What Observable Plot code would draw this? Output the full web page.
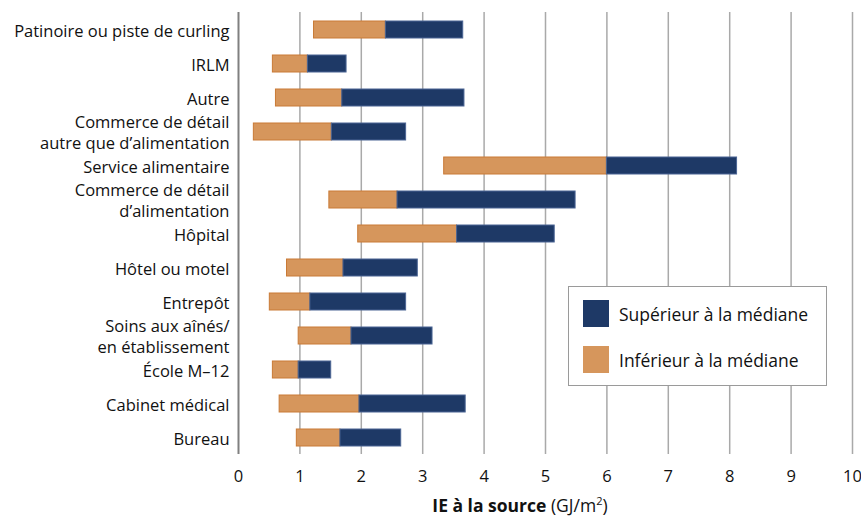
<!DOCTYPE html>
<html><head><meta charset="utf-8">
<script src="https://cdn.jsdelivr.net/npm/d3@7"></script>
<script src="https://cdn.jsdelivr.net/npm/@observablehq/plot@0.6"></script>
<style>
body{margin:0;background:#fff;font-family:"Open Sans",sans-serif;}
#wrap{position:relative;width:861px;height:516px;}
#legend{position:absolute;left:568px;top:286px;width:257px;height:98px;border:1.5px solid #9a9a9a;background:#fff;font-size:17.5px;color:#111;}
.item{position:absolute;left:14px;display:flex;align-items:center;}
.sw{width:26px;height:27px;margin-right:10px;}
#title{position:absolute;top:493px;left:0;width:1040px;text-align:center;font-size:17.5px;color:#111;}
</style></head>
<body><div id="wrap"><div id="chart"></div>
<div id="legend">
<div class="item" style="top:13px"><div class="sw" style="background:#1e3966"></div>Supérieur à la médiane</div>
<div class="item" style="top:59px"><div class="sw" style="background:#d6965c"></div>Inférieur à la médiane</div>
</div>
<div id="title"><b>IE à la source</b> (GJ/m<sup style="font-size:11px">2</sup>)</div>
</div>
<script>
const categories = ["Patinoire ou piste de curling","IRLM","Autre","Commerce de détail\nautre que d’alimentation","Service alimentaire","Commerce de détail\nd’alimentation","Hôpital","Hôtel ou motel","Entrepôt","Soins aux aînés/\nen établissement","École M–12","Cabinet médical","Bureau"];
const low    = [1.23,0.56,0.61,0.25,3.35,1.48,1.95,0.79,0.51,0.98,0.56,0.67,0.95];
const median = [2.40,1.13,1.69,1.52,6.00,2.59,3.56,1.71,1.17,1.84,0.98,1.97,1.66];
const high   = [3.66,1.76,3.68,2.73,8.12,5.49,5.15,2.92,2.73,3.16,1.51,3.70,2.65];
const xTicks = [0,1,2,3,4,5,6,7,8,9,10];

const rows = categories.map((c,i)=>({cat:c, low:low[i], med:median[i], high:high[i]}));

const chart = Plot.plot({
  width: 861, height: 516,
  marginTop: 12, marginBottom: 62, marginLeft: 238, marginRight: 9,
  style: {fontFamily: "Open Sans, sans-serif", fontSize: "16px", color: "#111", background: "#fff"},
  x: {domain: [0,10], ticks: xTicks},
  y: {domain: categories, paddingInner: 0.5, paddingOuter: 0.2, align: 0.5, axis: null},
  marks: [
    Plot.gridX(xTicks.slice(1), {stroke: "#a9a9a9", strokeOpacity: 1, strokeWidth: 1.5}),
    Plot.ruleY([0], {frameAnchor: "bottom", stroke: "#c4c4c4", strokeWidth: 1.5}),
    Plot.barX(rows, {y: "cat", x1: "low", x2: "med", fill: "#d6965c", stroke: "#c97a36", strokeWidth: 1}),
    Plot.barX(rows, {y: "cat", x1: "med", x2: "high", fill: "#1e3966", stroke: "#4b6594", strokeWidth: 1}),
    Plot.ruleX([0], {stroke: "#808080", strokeWidth: 2}),
    Plot.axisX({ticks: xTicks, tickSize: 0, tickPadding: 16, label: null, fontSize: 16.5}),
    Plot.text(rows, {y: "cat", text: "cat", frameAnchor: "left", textAnchor: "end", dx: -9, lineHeight: 1.25, fontSize: 16.5, fill: "#111"})
  ]
});
document.getElementById("chart").appendChild(chart);
</script>
</body></html>
